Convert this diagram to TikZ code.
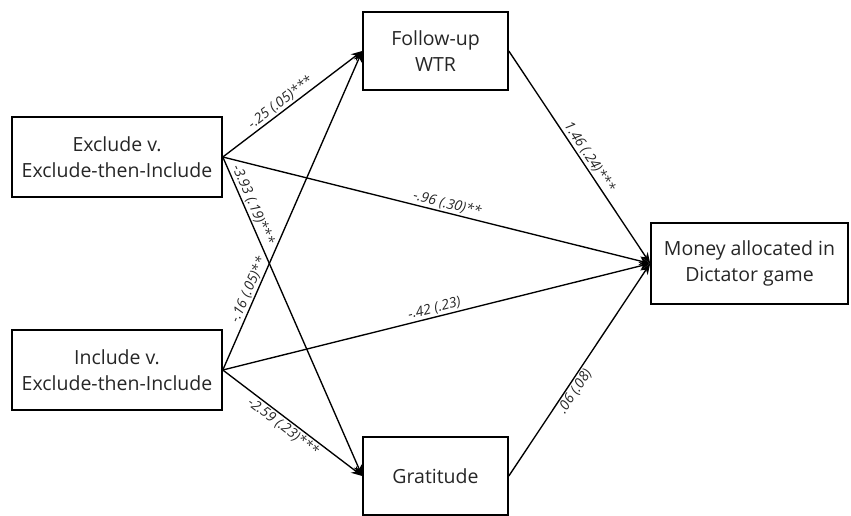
\documentclass[tikz,border=0pt]{standalone}
\usepackage{fontspec}
\setmainfont{Open Sans}
\usepackage{tikz}
\usetikzlibrary{arrows.meta,calc,positioning}
\tikzset{%
	varbox/.style = {draw, line width=1.6pt, rectangle, align=center, inner sep=0pt, text=black!85, font=\fontsize{19.5}{26}\selectfont},
	path/.style   = {line width=1.35pt, -{Stealth[length=11pt,width=8.5pt]}},
	coef/.style   = {sloped, text=black!85, font=\fontsize{14}{16}\selectfont\itshape, inner sep=1.5pt},
}
\begin{document}
\begin{tikzpicture}[x=1pt,y=-1pt]
		\useasboundingbox (0,0) rectangle (851,516);
		\node[varbox, minimum width=210pt, minimum height=80pt] (excl) at (117,157) {Exclude v.\\Exclude-then-Include};
		\node[varbox, minimum width=210pt, minimum height=80pt] (incl) at (117,370) {Include v.\\Exclude-then-Include};
		\node[varbox, minimum width=145pt, minimum height=78pt] (wtr) at (435.5,51) {Follow-up\\WTR};
		\node[varbox, minimum width=145pt, minimum height=78pt] (grat) at (435.5,476) {Gratitude};
		\node[varbox, minimum width=197pt, minimum height=81pt] (money) at (749.5,263.5) {Money allocated in\\Dictator game};
		\draw[path] (excl.east) -- (wtr.west) node[coef, above, pos=0.45] {-.25 (.05)***};
		\draw[path] (excl.east) -- (grat.west) node[coef, above, pos=0.16] {-3.93 (.19)***};
		\draw[path] (excl.east) -- (money.west) node[coef, above, pos=0.52] {-.96 (.30)**};
		\draw[path] (incl.east) -- (wtr.west) node[coef, above, pos=0.24] {-.16 (.05)**};
		\draw[path] (incl.east) -- (grat.west) node[coef, below, pos=0.47] {-2.59 (.23)***};
		\draw[path] (incl.east) -- (money.west) node[coef, above, pos=0.5] {-.42 (.23)};
		\draw[path] (wtr.east) -- (money.west) node[coef, above, pos=0.52] {1.46 (.24)***};
		\draw[path] (grat.east) -- (money.west) node[coef, below, pos=0.42] {.06 (.08)};
		\end{tikzpicture}
\end{document}
